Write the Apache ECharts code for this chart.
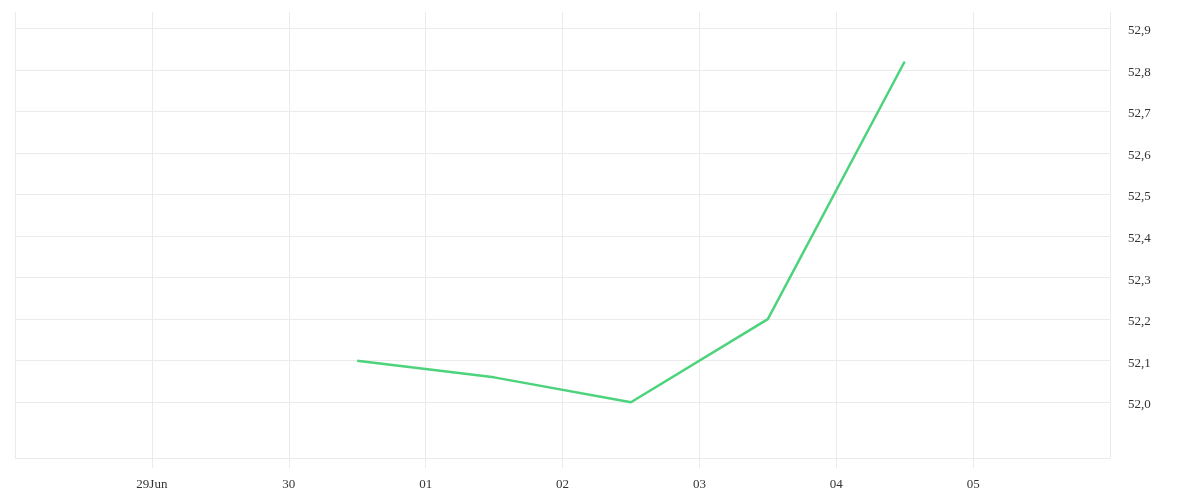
<!DOCTYPE html>
<html>
<head>
<meta charset="utf-8">
<script src="https://cdn.jsdelivr.net/npm/echarts@6/dist/echarts.min.js"></script>
<style>
  html, body { margin: 0; padding: 0; background: #fff; }
  #chart { width: 1200px; height: 500px; }
</style>
</head>
<body>
<div id="chart"></div>
<script>
  // data
  var dates = ['2020-06-30T12:00:00Z', '2020-07-01T12:00:00Z', '2020-07-02T12:00:00Z', '2020-07-03T12:00:00Z', '2020-07-04T12:00:00Z'];
  var values = [52.10, 52.06, 52.00, 52.20, 52.82];
  var monthNames = ['Jan', 'Feb', 'Mar', 'Apr', 'May', 'Jun', 'Jul', 'Aug', 'Sep', 'Oct', 'Nov', 'Dec'];

  var DAY = 86400000;
  var xMin = Date.UTC(2020, 5, 28);
  var xMax = Date.UTC(2020, 6, 6);
  var gridColor = '#ebebeb';
  var fontFamily = 'Liberation Serif';

  function pad(n) { return n < 10 ? '0' + n : '' + n; }

  var seriesData = [];
  for (var i = 0; i < dates.length; i++) {
    seriesData.push([new Date(dates[i]).getTime(), values[i]]);
  }

  var option = {
    animation: false,
    grid: [
      { left: 15, right: 90, top: 12, bottom: 42 },
      { left: 15, right: 90, top: 28.3, bottom: 97.7 }
    ],
    xAxis: [{
      gridIndex: 0,
      type: 'value',
      min: xMin,
      max: xMax,
      interval: DAY,
      axisLine: { show: true, lineStyle: { color: gridColor } },
      axisTick: { show: true, length: 10, lineStyle: { color: gridColor } },
      splitLine: { show: true, lineStyle: { color: gridColor } },
      axisLabel: {
        showMinLabel: false,
        showMaxLabel: false,
        margin: 20,
        color: '#333',
        fontFamily: fontFamily,
        fontSize: 13,
        formatter: function (v) {
          var d = new Date(v);
          var s = pad(d.getUTCDate());
          if (v === xMin + DAY) s += monthNames[d.getUTCMonth()];
          return s;
        }
      }
    }, {
      gridIndex: 1,
      type: 'value',
      min: xMin,
      max: xMax,
      show: false
    }],
    yAxis: [{
      gridIndex: 0,
      type: 'value',
      min: 51.866,
      max: 52.939,
      show: false
    }, {
      gridIndex: 1,
      type: 'value',
      position: 'right',
      min: 52.0,
      max: 52.9,
      interval: 0.1,
      axisLine: { show: false },
      axisTick: { show: false },
      splitLine: { show: true, lineStyle: { color: gridColor } },
      axisLabel: {
        margin: 18,
        verticalAlign: 'top',
        padding: [-4, 0, 0, 0],
        color: '#333',
        fontFamily: fontFamily,
        fontSize: 13,
        formatter: function (v) { return v.toFixed(1).replace('.', ','); }
      }
    }],
    series: [{
      type: 'line',
      xAxisIndex: 0,
      yAxisIndex: 0,
      data: seriesData,
      showSymbol: false,
      symbol: 'none',
      lineStyle: { color: '#4cd37b', width: 2.5 }
    }]
  };

  var myChart = echarts.init(document.getElementById('chart'));
  myChart.setOption(option);
</script>
</body>
</html>
